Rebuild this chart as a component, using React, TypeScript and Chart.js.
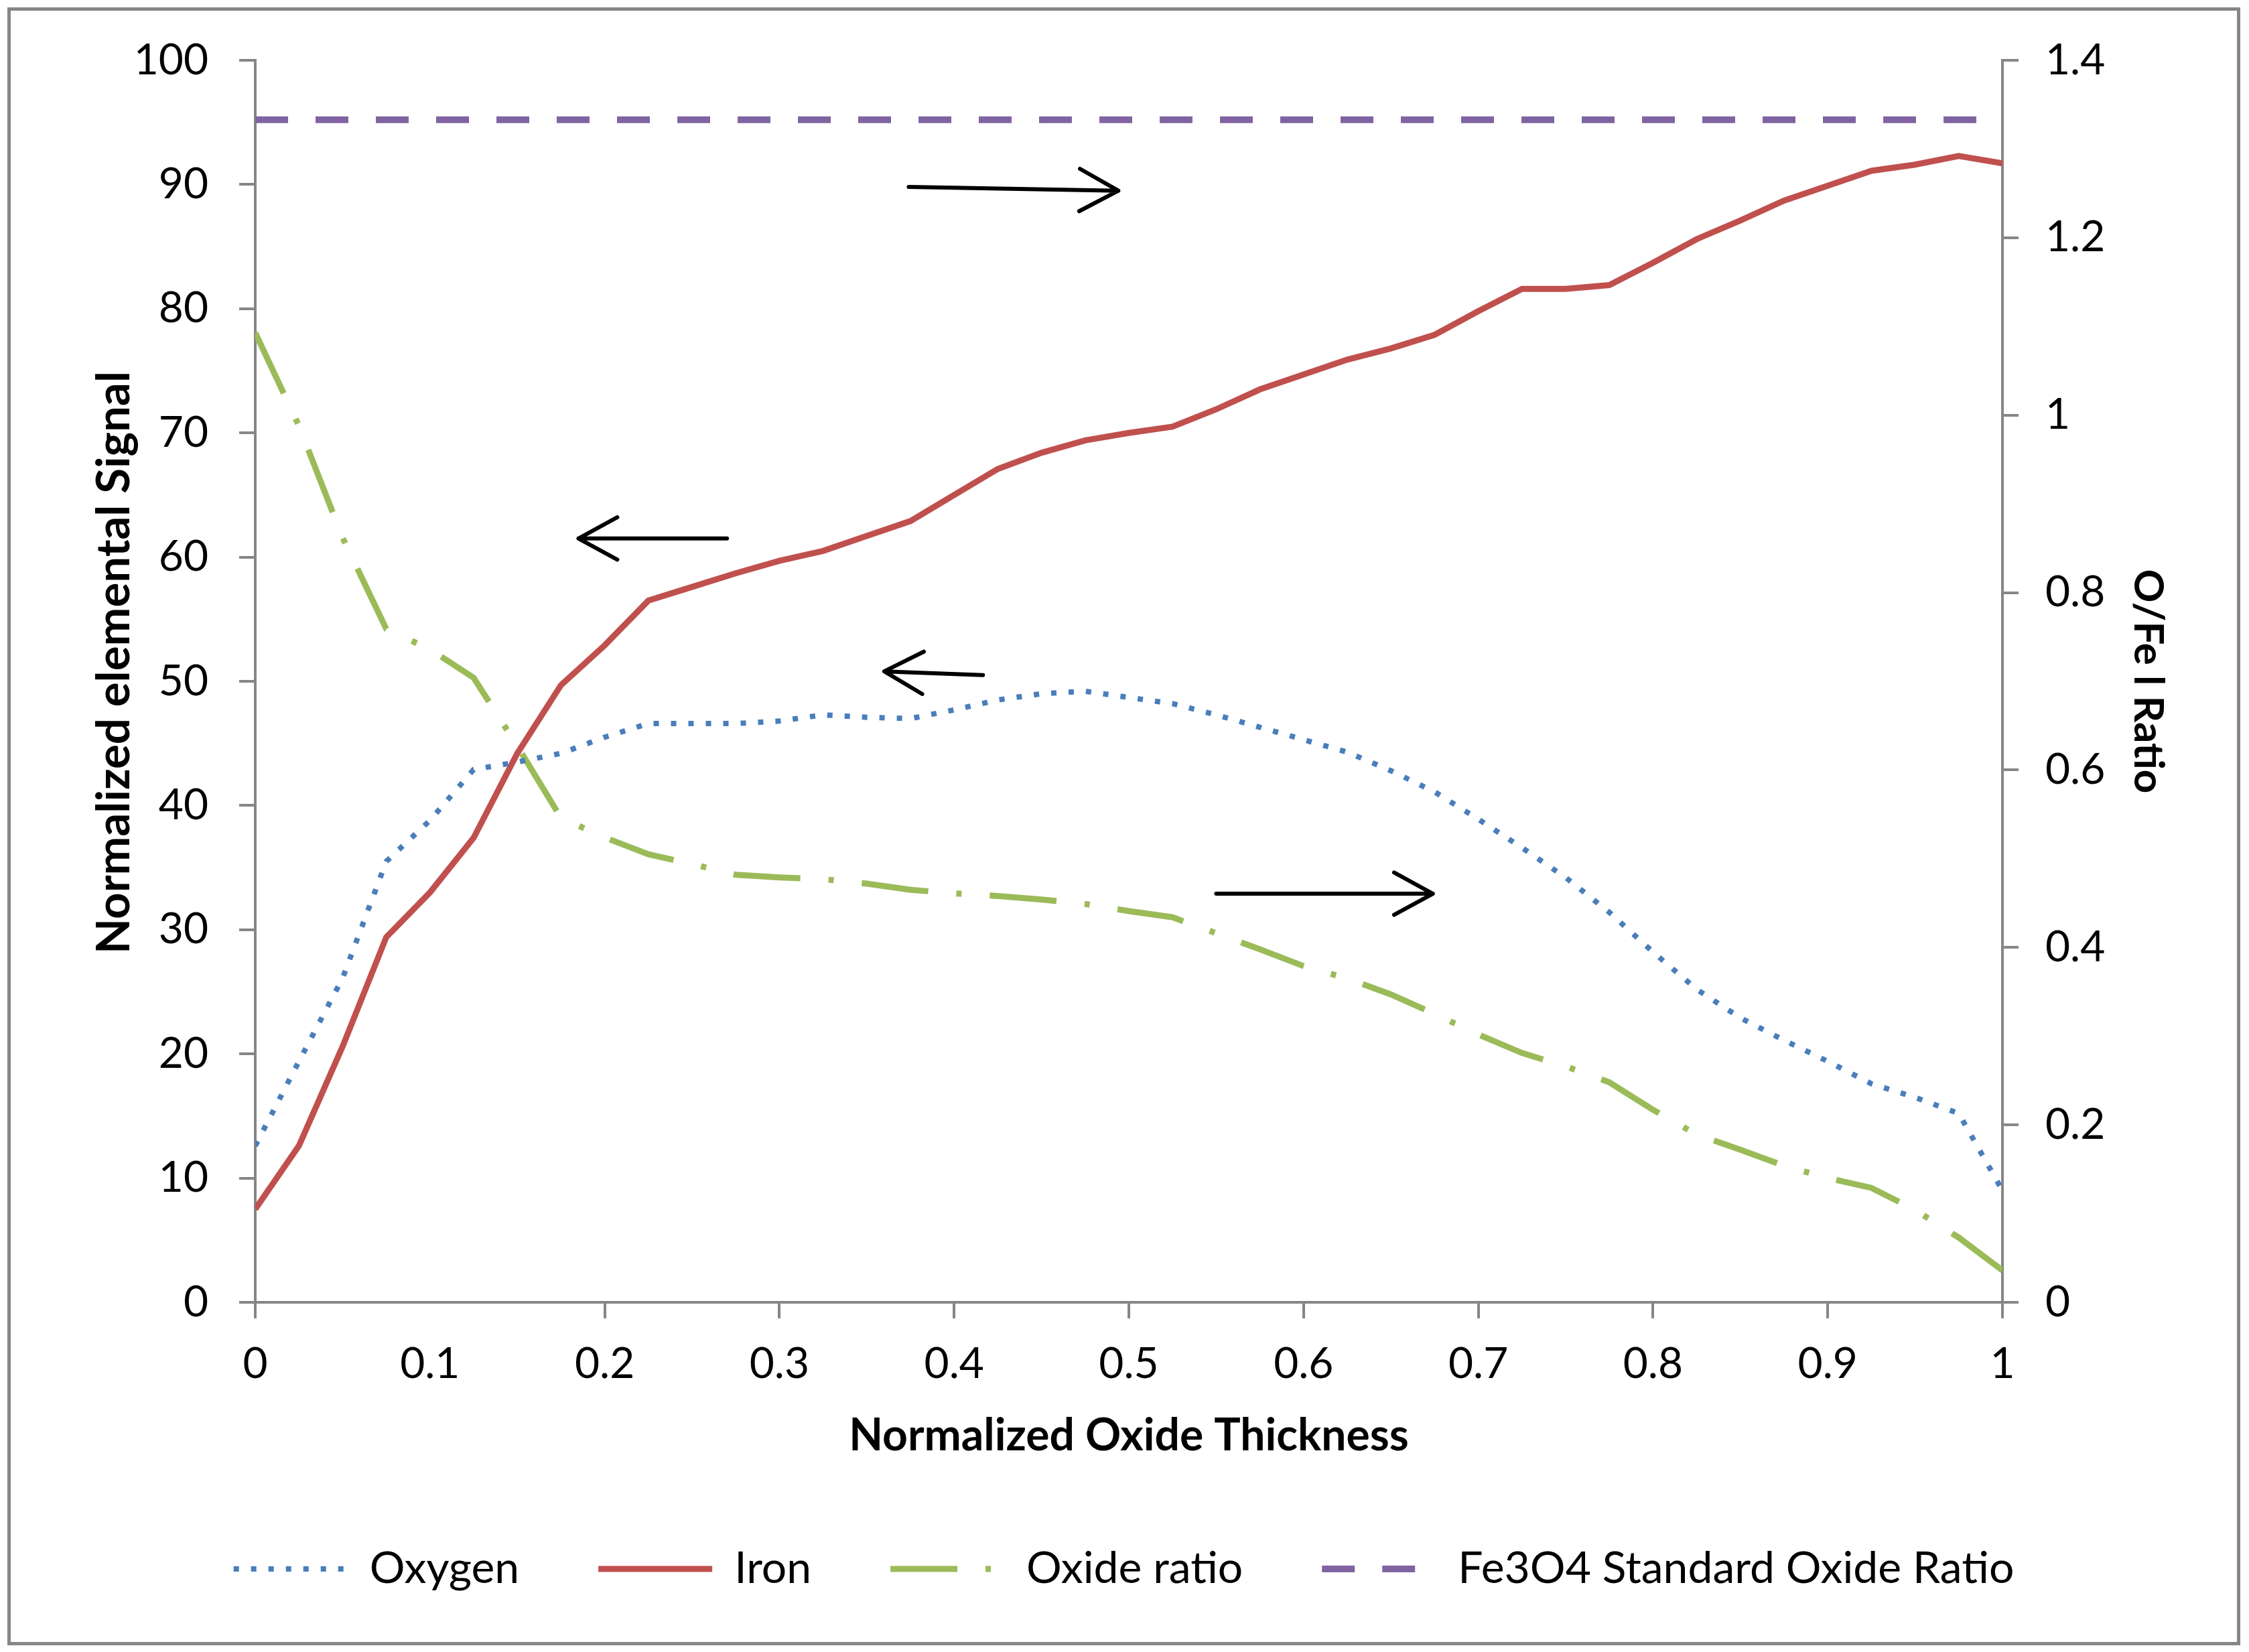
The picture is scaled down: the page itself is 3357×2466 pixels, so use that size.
import { useEffect, useRef } from "react"
import { Chart, registerables } from "chart.js"

Chart.register(...registerables)

Chart.defaults.font.family = "Lato"
Chart.defaults.color = "#000"

// normalized oxide thickness (x)
const thickness = [
  0, 0.025, 0.05, 0.075, 0.1, 0.125, 0.15, 0.175, 0.2, 0.225,
  0.25, 0.275, 0.3, 0.325, 0.35, 0.375, 0.4, 0.425, 0.45, 0.475,
  0.5, 0.525, 0.55, 0.575, 0.6, 0.625, 0.65, 0.675, 0.7, 0.725,
  0.75, 0.775, 0.8, 0.825, 0.85, 0.875, 0.9, 0.925, 0.95, 0.975, 1
]

// left axis: normalized elemental signal
const oxygen = [
  12.6, 19.4, 26.1, 35.5, 38.8, 42.9, 43.5, 44.2, 45.5, 46.6,
  46.6, 46.6, 46.8, 47.3, 47.1, 47.0, 47.7, 48.5, 49.0, 49.2,
  48.7, 48.2, 47.3, 46.3, 45.3, 44.3, 42.8, 41.1, 38.9, 36.6,
  34.2, 31.4, 28.2, 25.2, 22.9, 21.1, 19.4, 17.6, 16.5, 15.2, 9.0
]
const iron = [
  7.5, 12.6, 20.6, 29.4, 33.0, 37.4, 44.2, 49.7, 52.9, 56.5,
  57.6, 58.7, 59.7, 60.5, 61.7, 62.9, 65.0, 67.1, 68.4, 69.4,
  70.0, 70.5, 71.9, 73.5, 74.7, 75.9, 76.8, 77.9, 79.8, 81.6,
  81.6, 81.9, 83.7, 85.6, 87.1, 88.7, 89.9, 91.1, 91.6, 92.3, 91.7
]

// right axis: O/Fe ratio
const oxideRatio = [
  1.093, 0.988, 0.862, 0.759, 0.736, 0.704, 0.627, 0.546, 0.524, 0.505,
  0.494, 0.482, 0.479, 0.477, 0.472, 0.465, 0.461, 0.458, 0.454, 0.449,
  0.441, 0.434, 0.416, 0.398, 0.379, 0.365, 0.347, 0.325, 0.302, 0.281,
  0.266, 0.248, 0.217, 0.189, 0.172, 0.154, 0.14, 0.129, 0.104, 0.073, 0.036
]
const standardX = [0, 1]
const standardRatio = [1.333, 1.333]

// annotation arrows, in x / left-axis units
const arrowFromX = [0.374, 0.27, 0.4165, 0.55]
const arrowFromY = [89.8, 61.5, 50.5, 32.9]
const arrowToX = [0.494, 0.185, 0.36, 0.674]
const arrowToY = [89.5, 61.5, 50.8, 32.9]

const AXIS_GRAY = "#868686"
const LEFT_TITLE = "Normalized elemental Signal"

const arrowPlugin = {
  id: "arrows",
  afterDatasetsDraw(chart: any) {
    const { ctx, scales } = chart
    const sx = scales.x
    const sy = scales.y
    ctx.save()
    ctx.strokeStyle = "#000"
    ctx.lineWidth = 6
    ctx.lineCap = "round"
    ctx.lineJoin = "round"
    arrowFromX.forEach((fx, i) => {
      const x0 = sx.getPixelForValue(fx)
      const y0 = sy.getPixelForValue(arrowFromY[i])
      const x1 = sx.getPixelForValue(arrowToX[i])
      const y1 = sy.getPixelForValue(arrowToY[i])
      const a = Math.atan2(y1 - y0, x1 - x0)
      const len = 66
      const spread = 0.5
      ctx.beginPath()
      ctx.moveTo(x0, y0)
      ctx.lineTo(x1, y1)
      ctx.moveTo(x1 - len * Math.cos(a - spread), y1 - len * Math.sin(a - spread))
      ctx.lineTo(x1, y1)
      ctx.lineTo(x1 - len * Math.cos(a + spread), y1 - len * Math.sin(a + spread))
      ctx.stroke()
    })
    ctx.restore()
  }
}

// left axis title sits a little above the plot's middle in the original
const leftTitlePlugin = {
  id: "leftTitle",
  afterDraw(chart: any) {
    const { ctx, chartArea } = chart
    ctx.save()
    ctx.translate(155, (chartArea.top + chartArea.bottom) / 2 - 28)
    ctx.rotate(-Math.PI / 2)
    ctx.font = "bold 69px Lato"
    ctx.fillStyle = "#000"
    ctx.textAlign = "center"
    ctx.textBaseline = "middle"
    ctx.fillText(LEFT_TITLE, 0, 0)
    ctx.restore()
  }
}

const tickGrid = {
  drawOnChartArea: false,
  drawTicks: true,
  tickLength: 24,
  lineWidth: 4,
  color: AXIS_GRAY
}

function OxideChart() {
  const chartRef = useRef<HTMLCanvasElement>(null)
  const chartInstance = useRef<Chart | null>(null)

  useEffect(() => {
    if (chartRef.current) {
      if (chartInstance.current) chartInstance.current.destroy()
      chartInstance.current = new Chart(chartRef.current, {
        type: "line",
        data: {
          datasets: [
            {
              label: "Oxygen",
              data: thickness.map((x, i) => ({ x, y: oxygen[i] })),
              borderColor: "#4A7EBB",
              backgroundColor: "#4A7EBB",
              borderWidth: 8,
              borderDash: [8, 18],
              pointRadius: 0,
              yAxisID: "y"
            },
            {
              label: "Iron",
              data: thickness.map((x, i) => ({ x, y: iron[i] })),
              borderColor: "#C0504D",
              backgroundColor: "#C0504D",
              borderWidth: 9,
              pointRadius: 0,
              yAxisID: "y"
            },
            {
              label: "Oxide ratio",
              data: thickness.map((x, i) => ({ x, y: oxideRatio[i] })),
              borderColor: "#9BBB59",
              backgroundColor: "#9BBB59",
              borderWidth: 9,
              borderDash: [100, 42, 8, 42],
              pointRadius: 0,
              yAxisID: "y2"
            },
            {
              label: "Fe3O4 Standard Oxide Ratio",
              data: standardX.map((x, i) => ({ x, y: standardRatio[i] })),
              borderColor: "#8064A2",
              backgroundColor: "#8064A2",
              borderWidth: 10,
              borderDash: [49, 41],
              pointRadius: 0,
              yAxisID: "y2"
            }
          ]
        },
        options: {
          responsive: false,
          animation: false,
          devicePixelRatio: 1,
          events: [],
          layout: { padding: { top: 74, bottom: 66, left: 0, right: 0 } },
          plugins: {
            legend: {
              position: "bottom",
              labels: {
                usePointStyle: true,
                pointStyle: "line",
                pointStyleWidth: 170,
                padding: 118,
                color: "#000",
                font: { size: 66 },
                generateLabels: (chart: any) =>
                  chart.data.datasets.map((ds: any, i: number) => ({
                    text: ds.label,
                    datasetIndex: i,
                    fillStyle: ds.borderColor,
                    strokeStyle: ds.borderColor,
                    lineWidth: ds.borderWidth,
                    lineDash: ds.borderDash || [],
                    lineCap: "butt",
                    pointStyle: "line",
                    hidden: false
                  }))
              }
            },
            tooltip: { enabled: false }
          },
          scales: {
            x: {
              type: "linear",
              position: "bottom",
              min: 0,
              max: 1,
              ticks: {
                stepSize: 0.1,
                padding: 30,
                maxRotation: 0,
                autoSkip: false,
                font: { size: 64 },
                callback: (v: any) => String(Math.round(Number(v) * 10) / 10)
              },
              grid: {
                ...tickGrid,
                tickColor: (c: any) =>
                  c.tick && Math.abs(c.tick.value - 0.1) < 1e-9 ? "rgba(0,0,0,0)" : AXIS_GRAY
              },
              border: { display: true, color: AXIS_GRAY, width: 4 },
              title: {
                display: true,
                text: "Normalized Oxide Thickness",
                font: { size: 66, weight: "bold" },
                padding: { top: 0, bottom: 8 }
              },
              afterFit: (s: any) => { s.height = 247 }
            },
            y: {
              type: "linear",
              position: "left",
              min: 0,
              max: 100,
              ticks: { stepSize: 10, padding: 46, font: { size: 64 } },
              grid: tickGrid,
              border: { display: true, color: AXIS_GRAY, width: 4 },
              title: { display: false },
              afterFit: (s: any) => {
                s.width = 365
                s.paddingTop = 0
                s.paddingBottom = 0
              }
            },
            y2: {
              type: "linear",
              position: "right",
              min: 0,
              max: 1.4,
              ticks: {
                stepSize: 0.2,
                padding: 40,
                font: { size: 64 },
                callback: (v: any) => String(Math.round(Number(v) * 10) / 10)
              },
              grid: tickGrid,
              border: { display: true, color: AXIS_GRAY, width: 4 },
              title: {
                display: true,
                text: "O/Fe l Ratio",
                font: { size: 62, weight: "bold" },
                padding: { top: 96, bottom: 0 }
              },
              afterFit: (s: any) => {
                s.width = 350
                s.paddingTop = 0
                s.paddingBottom = 0
              }
            }
          }
        } as any,
        plugins: [arrowPlugin, leftTitlePlugin]
      })
    }
    return () => { if (chartInstance.current) chartInstance.current.destroy() }
  }, [])

  return (
    <div
      style={{
        position: "absolute",
        left: 11,
        top: 11,
        width: 3333,
        height: 2445,
        border: `5px solid ${AXIS_GRAY}`,
        boxSizing: "border-box",
        background: "#fff"
      }}
    >
      <canvas ref={chartRef} width={3323} height={2435} style={{ display: "block" }} />
    </div>
  )
}

export default function App() {
  return <OxideChart />
}
